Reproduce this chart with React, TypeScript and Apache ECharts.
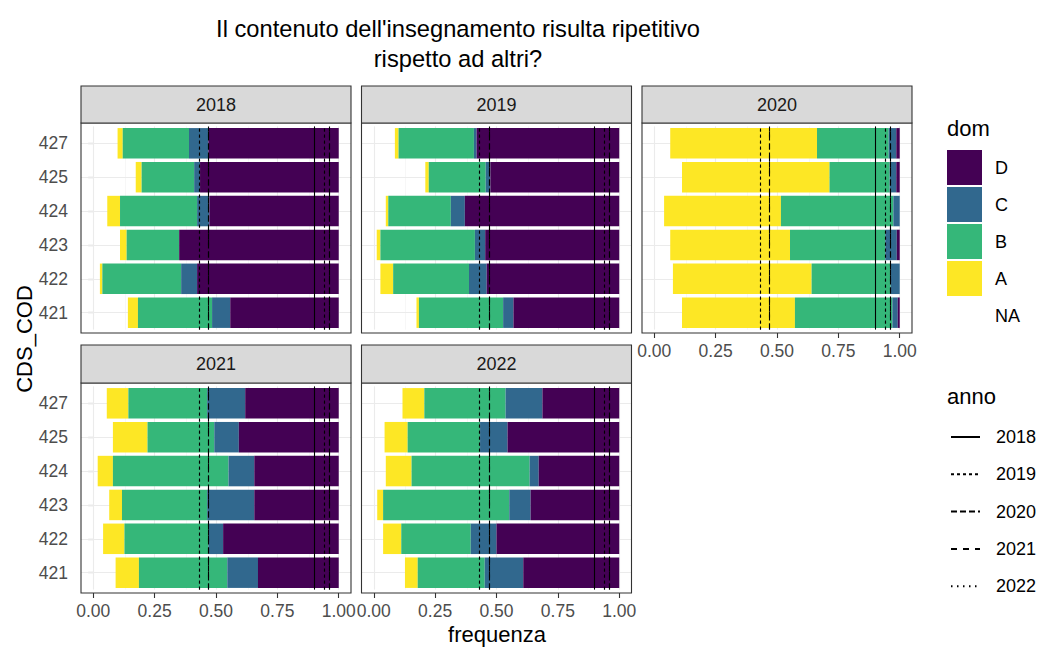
import React, { useEffect, useRef } from 'react';
import * as echarts from 'echarts';

// ---------- data ----------
const years = ['2018', '2019', '2020', '2021', '2022'];
const categories = ['421', '422', '423', '424', '425', '427'];
const domOrder = ['NA', 'A', 'B', 'C', 'D'];
const legendDom = ['D', 'C', 'B', 'A', 'NA'];
const xTicks = [0, 0.25, 0.5, 0.75, 1];
const xMinor = [0.125, 0.375, 0.625, 0.875];

// shares per year (rows) and per category (columns, order of `categories`)
const shareNA = [
  [0.141, 0.027, 0.109, 0.057, 0.173, 0.099],
  [0.174, 0.027, 0.012, 0.049, 0.210, 0.086],
  [0.113, 0.076, 0.065, 0.040, 0.113, 0.065],
  [0.091, 0.040, 0.065, 0.018, 0.080, 0.055],
  [0.127, 0.038, 0.014, 0.049, 0.044, 0.117],
];
const shareA = [
  [0.041, 0.010, 0.027, 0.052, 0.024, 0.021],
  [0.010, 0.052, 0.015, 0.010, 0.014, 0.015],
  [0.460, 0.565, 0.488, 0.476, 0.601, 0.598],
  [0.095, 0.087, 0.052, 0.062, 0.141, 0.088],
  [0.052, 0.074, 0.024, 0.105, 0.094, 0.089],
];
const shareB = [
  [0.302, 0.321, 0.214, 0.314, 0.214, 0.270],
  [0.343, 0.309, 0.385, 0.255, 0.232, 0.307],
  [0.397, 0.322, 0.388, 0.458, 0.245, 0.292],
  [0.360, 0.342, 0.347, 0.471, 0.272, 0.321],
  [0.273, 0.283, 0.514, 0.481, 0.295, 0.331],
];
const shareC = [
  [0.074, 0.065, 0.000, 0.050, 0.024, 0.079],
  [0.042, 0.072, 0.042, 0.057, 0.019, 0.011],
  [0.022, 0.037, 0.047, 0.026, 0.027, 0.031],
  [0.125, 0.060, 0.192, 0.105, 0.100, 0.155],
  [0.157, 0.105, 0.087, 0.037, 0.112, 0.150],
];
const shareD = [
  [0.442, 0.577, 0.650, 0.527, 0.565, 0.531],
  [0.431, 0.540, 0.546, 0.629, 0.525, 0.581],
  [0.008, 0.000, 0.012, 0.000, 0.014, 0.014],
  [0.329, 0.471, 0.344, 0.344, 0.407, 0.381],
  [0.391, 0.500, 0.361, 0.328, 0.455, 0.313],
];
// reference lines (x positions) per "anno"
const refLines = [
  [0.903],
  [0.433, 0.944],
  [0.471, 0.96],
  [0.471, 0.96],
  [0.433, 0.944],
];

// ---------- styles / layout ----------
const FONT = '"Liberation Sans", Arial, Helvetica, sans-serif';
const domColors: Record<string, string> = {
  NA: 'rgba(0,0,0,0)',
  A: '#FDE725',
  B: '#35B779',
  C: '#31688E',
  D: '#440154',
};
const annoDash: any[] = ['solid', [3, 3], [6, 3], [6, 6], [1.5, 4.5]];
const colLeft = [81, 361.5, 642];
const panelW = 270;
const stripTop = [86, 345];
const plotTop = [123, 383];
const plotH = 210;
const inset = plotH * 0.1 / 6.2;

function buildOption() {
  const shares = [shareNA, shareA, shareB, shareC, shareD];
  const grid: any[] = [];
  const xAxis: any[] = [];
  const yAxis: any[] = [];
  const series: any[] = [];
  const graphic: any[] = [];

  years.forEach((yr, i) => {
    const r = i < 3 ? 0 : 1;
    const c = i % 3;
    const showX = i >= 2;
    const showY = c === 0;
    grid.push({
      left: colLeft[c],
      top: plotTop[r] + inset,
      width: panelW,
      height: plotH - 2 * inset,
    });
    xAxis.push({
      type: 'value',
      gridIndex: i,
      min: -0.05,
      max: 1.05,
      offset: inset,
      axisLine: { show: false },
      splitLine: { show: false },
      axisTick: {
        show: showX,
        customValues: xTicks,
        length: 5,
        lineStyle: { color: '#333333', width: 1.1 },
      },
      axisLabel: {
        show: showX,
        customValues: xTicks,
        formatter: (v: number) => v.toFixed(2),
        fontSize: 17.5,
        color: '#4D4D4D',
        margin: 9,
        fontFamily: FONT,
      },
    });
    yAxis.push({
      type: 'category',
      gridIndex: i,
      data: categories,
      axisLine: { show: false },
      splitLine: { show: false },
      axisTick: {
        show: showY,
        alignWithLabel: true,
        length: 5,
        lineStyle: { color: '#333333', width: 1.1 },
      },
      axisLabel: {
        show: showY,
        fontSize: 17.5,
        color: '#4D4D4D',
        margin: 13,
        fontFamily: FONT,
      },
    });

    domOrder.forEach((d, k) => {
      const s: any = {
        type: 'bar',
        name: d,
        stack: 'p' + i,
        xAxisIndex: i,
        yAxisIndex: i,
        barWidth: '90%',
        silent: true,
        data: shares[k][i],
        itemStyle: { color: domColors[d] },
      };
      if (d === 'NA') {
        s.markLine = {
          z: 1,
          silent: true,
          symbol: ['none', 'none'],
          label: { show: false },
          lineStyle: { color: '#EBEBEB', width: 1.1, type: 'solid' },
          data: [
            ...xTicks.map((v) => ({ xAxis: v, lineStyle: { color: '#EBEBEB', width: 1.1, type: 'solid' } })),
            ...xMinor.map((v) => ({ xAxis: v, lineStyle: { color: '#F2F2F2', width: 0.6, type: 'solid' } })),
            ...categories.map((cat) => ({ yAxis: cat, lineStyle: { color: '#EBEBEB', width: 1.1, type: 'solid' } })),
          ],
        };
      }
      series.push(s);
    });

    years.forEach((an, j) => {
      series.push({
        type: 'line',
        name: an,
        xAxisIndex: i,
        yAxisIndex: i,
        data: [],
        symbol: 'none',
        silent: true,
        lineStyle: { color: '#000000', width: 1.1, type: annoDash[j] },
        markLine: {
          z: 5,
          silent: true,
          symbol: ['none', 'none'],
          label: { show: false },
          lineStyle: { color: '#000000', width: 1.1, type: annoDash[j] },
          data: refLines[j].map((v) => ({ xAxis: v })),
        },
      });
    });

    // panel border and strip
    graphic.push({
      type: 'rect',
      z: 100,
      silent: true,
      shape: { x: colLeft[c], y: plotTop[r], width: panelW, height: plotH },
      style: { fill: 'none', stroke: '#333333', lineWidth: 1.1 },
    });
    graphic.push({
      type: 'rect',
      z: 100,
      silent: true,
      shape: { x: colLeft[c], y: stripTop[r], width: panelW, height: plotTop[r] - stripTop[r] },
      style: { fill: '#D9D9D9', stroke: '#333333', lineWidth: 1.1 },
    });
    graphic.push({
      type: 'text',
      z: 101,
      silent: true,
      x: colLeft[c] + panelW / 2,
      y: (stripTop[r] + plotTop[r]) / 2,
      style: {
        text: yr,
        fontSize: 18,
        fill: '#1A1A1A',
        fontFamily: FONT,
        textAlign: 'center',
        textVerticalAlign: 'middle',
      },
    });
  });

  const txt = (text: string, x: number, y: number, size: number, align: string, rot = 0) => ({
    type: 'text',
    z: 101,
    silent: true,
    x,
    y,
    rotation: rot,
    style: {
      text,
      fontSize: size,
      fill: '#000000',
      fontFamily: FONT,
      textAlign: align,
      textVerticalAlign: 'middle',
    },
  });
  graphic.push(txt("Il contenuto dell'insegnamento risulta ripetitivo", 458, 29, 23.7, 'center'));
  graphic.push(txt('rispetto ad altri?', 458, 59, 23.7, 'center'));
  graphic.push(txt('frequenza', 497, 634, 22, 'center'));
  graphic.push(txt('CDS_COD', 24, 339, 22, 'center', Math.PI / 2));
  graphic.push(txt('dom', 947, 128, 22, 'left'));
  graphic.push(txt('anno', 947, 396, 22, 'left'));

  return {
    animation: false,
    grid,
    xAxis,
    yAxis,
    series,
    graphic,
    legend: [
      {
        data: legendDom,
        orient: 'vertical',
        left: 947,
        top: 150,
        itemWidth: 35,
        itemHeight: 35,
        itemGap: 2,
        icon: 'rect',
        selectedMode: false,
        padding: 0,
        textStyle: { fontSize: 18, color: '#000000', fontFamily: FONT, padding: [0, 0, 0, 8] },
      },
      {
        data: years,
        orient: 'vertical',
        left: 950,
        top: 423,
        itemWidth: 29,
        itemHeight: 35,
        itemGap: 9.3,
        selectedMode: false,
        padding: 0,
        itemStyle: { opacity: 0 },
        textStyle: { fontSize: 18, color: '#000000', fontFamily: FONT, padding: [0, 0, 0, 11] },
      },
    ],
  };
}

export default function App() {
  const ref = useRef<HTMLDivElement>(null);
  useEffect(() => {
    if (!ref.current) return;
    const chart = echarts.init(ref.current, null, { renderer: 'svg' });
    chart.setOption(buildOption() as any);
    return () => chart.dispose();
  }, []);
  return (
    <div
      ref={ref}
      style={{ position: 'fixed', left: 0, top: 0, width: 1038, height: 648, background: '#ffffff' }}
    />
  );
}
